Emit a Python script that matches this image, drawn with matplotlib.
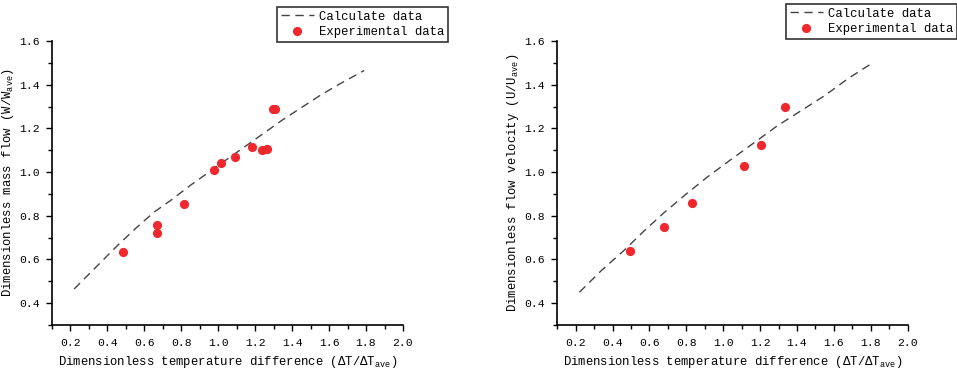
import numpy as np
import matplotlib
matplotlib.use("Agg")
import matplotlib.pyplot as plt
from matplotlib.ticker import MultipleLocator

plt.rcParams['font.family'] = ['Liberation Mono', 'DejaVu Sans Mono']
plt.rcParams['mathtext.fontset'] = 'custom'
plt.rcParams['mathtext.rm'] = 'Liberation Mono'

# Left panel: dimensionless mass flow
calc_x_w = [0.22, 0.35, 0.45, 0.55, 0.65, 0.75, 0.85, 0.95, 1.05, 1.15, 1.25, 1.35, 1.45, 1.55, 1.65, 1.79]
calc_y_w = [0.465, 0.575, 0.66, 0.74, 0.815, 0.875, 0.94, 1.0, 1.06, 1.12, 1.18, 1.24, 1.295, 1.35, 1.40, 1.465]
exp_x_w = [0.485, 0.666, 0.666, 0.814, 0.979, 1.013, 1.091, 1.181, 1.239, 1.262, 1.298, 1.306]
exp_y_w = [0.636, 0.757, 0.722, 0.856, 1.011, 1.041, 1.068, 1.114, 1.103, 1.106, 1.287, 1.287]

# Right panel: dimensionless flow velocity
calc_x_u = [0.22, 0.34, 0.46, 0.57, 0.68, 0.80, 0.91, 1.03, 1.16, 1.29, 1.42, 1.55, 1.68, 1.81]
calc_y_u = [0.45, 0.55, 0.64, 0.73, 0.815, 0.90, 0.975, 1.05, 1.13, 1.21, 1.28, 1.35, 1.43, 1.50]
exp_x_u = [0.493, 0.679, 0.829, 1.111, 1.207, 1.334]
exp_y_u = [0.637, 0.747, 0.857, 1.030, 1.122, 1.298]

xlabel = r'Dimensionless temperature difference (ΔT/ΔT$_{\rm ave}$)'
ylabels = [r'Dimensionless mass flow (W/W$_{\rm ave}$)',
           r'Dimensionless flow velocity (U/U$_{\rm ave}$)']

fs = 8.8
tick_fs = 8.2

fig = plt.figure(figsize=(9.57, 3.75), dpi=100)
ax1 = fig.add_axes([0.0543, 0.1333, 0.3668, 0.7574])
ax2 = fig.add_axes([0.5823, 0.1333, 0.3662, 0.7574])

panels = [
    (ax1, calc_x_w, calc_y_w, exp_x_w, exp_y_w, ylabels[0], (277 / 957, 1 - 7 / 375), -0.103),
    (ax2, calc_x_u, calc_y_u, exp_x_u, exp_y_u, ylabels[1], (786 / 957, 1 - 4 / 375), -0.103),
]

for ax, cx, cy, ex, ey, ylab, leg_pos, ylab_x in panels:
    ax.plot(cx, cy, color='#444444', lw=1.0, linestyle=(0, (6, 4)), label='Calculate data')
    ax.plot(ex, ey, 'o', color='#F0282D', ms=5.6, mec='#F0282D', label='Experimental data')

    ax.set_xlim(0.1, 2.0)
    ax.set_ylim(0.3, 1.6)
    ax.xaxis.set_minor_locator(MultipleLocator(0.1))
    ax.yaxis.set_minor_locator(MultipleLocator(0.1))
    ax.set_xticks(np.arange(0.2, 2.01, 0.2))
    ax.set_yticks(np.arange(0.4, 1.61, 0.2))
    ax.tick_params(axis='x', which='major', pad=5)
    ax.tick_params(axis='y', which='major', pad=5)
    ax.tick_params(which='major', direction='out', length=4, width=1, labelsize=tick_fs)
    ax.tick_params(which='minor', direction='out', length=3, width=1)
    for s in ['top', 'right']:
        ax.spines[s].set_visible(False)
    for s in ['left', 'bottom']:
        ax.spines[s].set_linewidth(1.2)

    ax.set_xlabel(xlabel, fontsize=fs, labelpad=5)
    ax.set_ylabel(ylab, fontsize=fs)
    ax.yaxis.set_label_coords(ylab_x, 0.5)

    leg = ax.legend(loc='upper left', bbox_to_anchor=leg_pos, bbox_transform=fig.transFigure,
                    fontsize=fs, frameon=True, fancybox=False, edgecolor='black',
                    handlelength=2.7, handletextpad=0.4, borderpad=0.3, labelspacing=0.3,
                    borderaxespad=0)
    leg.get_frame().set_linewidth(1.2)

fig.savefig('out.png', dpi=100)
